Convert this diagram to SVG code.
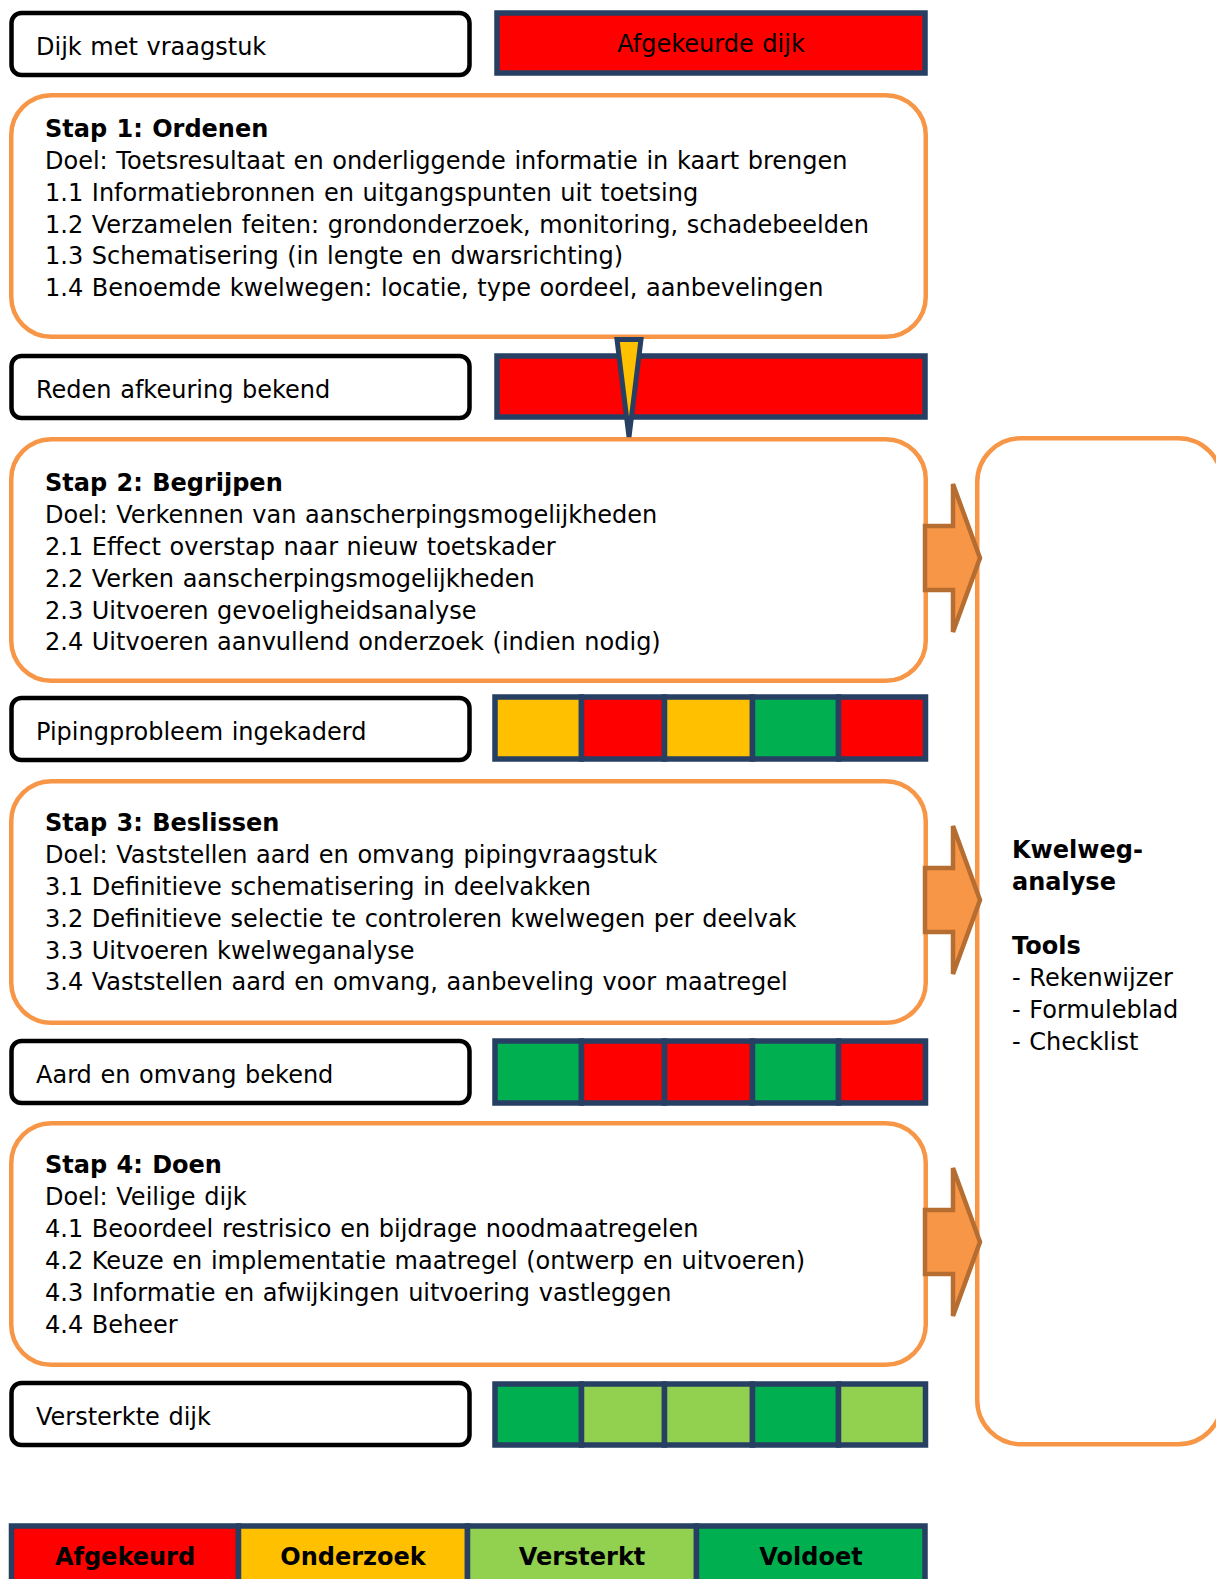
<svg xmlns="http://www.w3.org/2000/svg" width="1216" height="1579" viewBox="0 0 1216 1579">
<style>
.t{font-family:"DejaVu Sans",Verdana,sans-serif;font-size:24px;fill:#000;word-spacing:1px}
.b{font-weight:bold}
.lbl{fill:#fff;stroke:#000;stroke-width:4.5}
.step{fill:#fff;stroke:#F79646;stroke-width:4.5}
.bar{stroke:#263F63;stroke-width:5.5}
.r{fill:#FF0000}.y{fill:#FFC000}.g{fill:#00B050}.lg{fill:#92D050}
.arr{fill:#F79646;stroke:#B66D31;stroke-width:4.5;stroke-linejoin:miter}
.c{text-anchor:middle}
</style>
<rect width="1216" height="1579" fill="#fff"/>

<g id="status-1">
<rect class="lbl" x="11.5" y="13" width="458" height="62" rx="10"/>
<text class="t" x="36" y="55">Dijk met vraagstuk</text>
</g>
<g id="bar-1">
<rect class="bar r" x="497" y="13" width="428" height="60"/>
<text class="t c" x="711" y="52">Afgekeurde dijk</text>
</g>

<g id="stap-1">
<rect class="step" x="11.25" y="95.25" width="914.5" height="241.5" rx="40"/>
<text class="t b" x="45" y="137">Stap 1: Ordenen</text>
<text class="t" x="45" y="169">Doel: Toetsresultaat en onderliggende informatie in kaart brengen</text>
<text class="t" x="45" y="201">1.1 Informatiebronnen en uitgangspunten uit toetsing</text>
<text class="t" x="45" y="233">1.2 Verzamelen feiten: grondonderzoek, monitoring, schadebeelden</text>
<text class="t" x="45" y="264">1.3 Schematisering (in lengte en dwarsrichting)</text>
<text class="t" x="45" y="296">1.4 Benoemde kwelwegen: locatie, type oordeel, aanbevelingen</text>
</g>

<g id="status-2">
<rect class="lbl" x="11.5" y="356" width="458" height="62" rx="10"/>
<text class="t" x="36" y="398">Reden afkeuring bekend</text>
</g>
<g id="bar-2">
<rect class="bar r" x="497" y="356" width="428" height="61"/>
</g>

<g id="stap-2">
<rect class="step" x="11.25" y="439.25" width="914.5" height="241.5" rx="40"/>
<text class="t b" x="45" y="491">Stap 2: Begrijpen</text>
<text class="t" x="45" y="523">Doel: Verkennen van aanscherpingsmogelijkheden</text>
<text class="t" x="45" y="555">2.1 Effect overstap naar nieuw toetskader</text>
<text class="t" x="45" y="587">2.2 Verken aanscherpingsmogelijkheden</text>
<text class="t" x="45" y="619">2.3 Uitvoeren gevoeligheidsanalyse</text>
<text class="t" x="45" y="650">2.4 Uitvoeren aanvullend onderzoek (indien nodig)</text>
</g>

<g id="status-3">
<rect class="lbl" x="11.5" y="698" width="458" height="62" rx="10"/>
<text class="t" x="36" y="740">Pipingprobleem ingekaderd</text>
</g>
<g id="bar-3">
<rect class="bar y" x="495" y="697" width="86.5" height="62"/>
<rect class="bar r" x="581.5" y="697" width="83" height="62"/>
<rect class="bar y" x="664.5" y="697" width="88" height="62"/>
<rect class="bar g" x="752.5" y="697" width="86" height="62"/>
<rect class="bar r" x="838.5" y="697" width="87" height="62"/>
</g>

<g id="stap-3">
<rect class="step" x="11.25" y="781.25" width="914.5" height="241.5" rx="40"/>
<text class="t b" x="45" y="831">Stap 3: Beslissen</text>
<text class="t" x="45" y="863">Doel: Vaststellen aard en omvang pipingvraagstuk</text>
<text class="t" x="45" y="895">3.1 Definitieve schematisering in deelvakken</text>
<text class="t" x="45" y="927">3.2 Definitieve selectie te controleren kwelwegen per deelvak</text>
<text class="t" x="45" y="959">3.3 Uitvoeren kwelweganalyse</text>
<text class="t" x="45" y="990">3.4 Vaststellen aard en omvang, aanbeveling voor maatregel</text>
</g>

<g id="status-4">
<rect class="lbl" x="11.5" y="1041" width="458" height="62" rx="10"/>
<text class="t" x="36" y="1083">Aard en omvang bekend</text>
</g>
<g id="bar-4">
<rect class="bar g" x="495" y="1041" width="86.5" height="62"/>
<rect class="bar r" x="581.5" y="1041" width="83" height="62"/>
<rect class="bar r" x="664.5" y="1041" width="88" height="62"/>
<rect class="bar g" x="752.5" y="1041" width="86" height="62"/>
<rect class="bar r" x="838.5" y="1041" width="87" height="62"/>
</g>

<g id="stap-4">
<rect class="step" x="11.25" y="1123.25" width="914.5" height="241.5" rx="40"/>
<text class="t b" x="45" y="1173">Stap 4: Doen</text>
<text class="t" x="45" y="1205">Doel: Veilige dijk</text>
<text class="t" x="45" y="1237">4.1 Beoordeel restrisico en bijdrage noodmaatregelen</text>
<text class="t" x="45" y="1269">4.2 Keuze en implementatie maatregel (ontwerp en uitvoeren)</text>
<text class="t" x="45" y="1301">4.3 Informatie en afwijkingen uitvoering vastleggen</text>
<text class="t" x="45" y="1333">4.4 Beheer</text>
</g>

<g id="status-5">
<rect class="lbl" x="11.5" y="1383" width="458" height="62" rx="10"/>
<text class="t" x="36" y="1425">Versterkte dijk</text>
</g>
<g id="bar-5">
<rect class="bar g" x="495" y="1384" width="86.5" height="61"/>
<rect class="bar lg" x="581.5" y="1384" width="83" height="61"/>
<rect class="bar lg" x="664.5" y="1384" width="88" height="61"/>
<rect class="bar g" x="752.5" y="1384" width="86" height="61"/>
<rect class="bar lg" x="838.5" y="1384" width="87" height="61"/>
</g>

<g id="kwelweg-analyse">
<rect class="step" x="977.25" y="438.25" width="245" height="1006" rx="44"/>
<text class="t b" x="1012" y="858">Kwelweg-</text>
<text class="t b" x="1012" y="890">analyse</text>
<text class="t b" x="1012" y="954">Tools</text>
<text class="t" x="1012" y="986">- Rekenwijzer</text>
<text class="t" x="1012" y="1018">- Formuleblad</text>
<text class="t" x="1012" y="1050">- Checklist</text>
</g>

<g id="legend">
<rect class="bar r" x="11.5" y="1526" width="227" height="70"/>
<rect class="bar y" x="238.5" y="1526" width="229" height="70"/>
<rect class="bar lg" x="467.5" y="1526" width="229" height="70"/>
<rect class="bar g" x="696.5" y="1526" width="228.5" height="70"/>
<text class="t b c" x="125" y="1565">Afgekeurd</text>
<text class="t b c" x="353" y="1565">Onderzoek</text>
<text class="t b c" x="582" y="1565">Versterkt</text>
<text class="t b c" x="811" y="1565">Voldoet</text>
</g>

<g id="connectors">
<polygon points="617,339.5 641,339.5 629,437" fill="#FFC000" stroke="#263F63" stroke-width="5" stroke-linejoin="miter"/>
<polygon class="arr" points="925,526 953,526 953,484 980,558 953,632 953,590 925,590"/>
<polygon class="arr" points="925,868 953,868 953,826 980,900 953,974 953,932 925,932"/>
<polygon class="arr" points="925,1210 953,1210 953,1168 980,1242 953,1316 953,1274 925,1274"/>
</g>
</svg>
